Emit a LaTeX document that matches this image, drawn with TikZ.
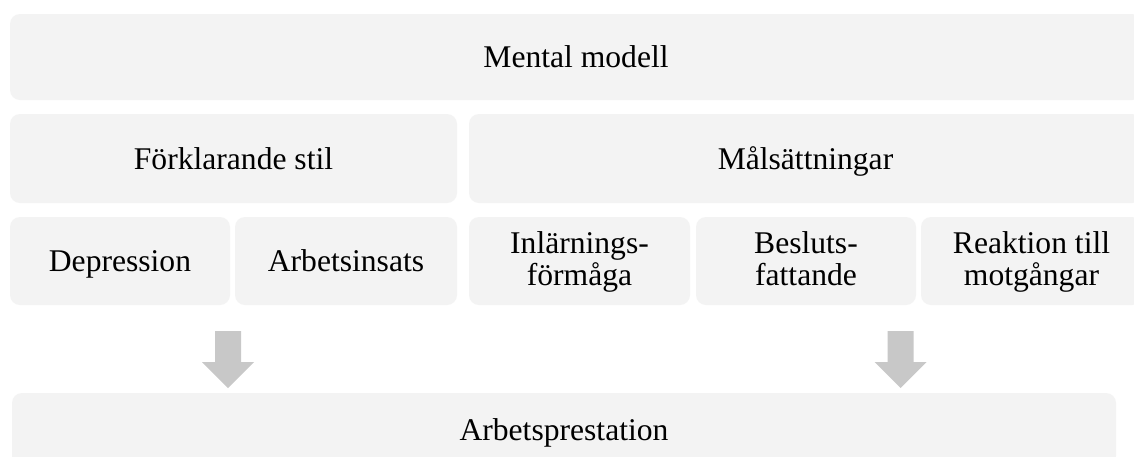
\documentclass[tikz,border=0pt]{standalone}
\usepackage{fontspec}
\setmainfont{Liberation Serif}
\definecolor{boxfill}{HTML}{F3F3F3}
\definecolor{arrowfill}{HTML}{C8C8C8}
\begin{document}
\begin{tikzpicture}[x=1pt,y=-1pt,
  box/.style={fill=boxfill, rounded corners=10pt, inner sep=0pt, align=center,
    font=\fontsize{31.6}{32}\selectfont},
  oneline/.style={box, text height=21pt, text depth=0pt},
  twoline/.style={box, text height=53pt, text depth=5pt},
  blockarrow/.style={fill=arrowfill, draw=none}]
\useasboundingbox (0,0) rectangle (1134,456);
\clip (0,0) rectangle (1134,456);
\fill[white] (0,0) rectangle (1134,456);
% top row
\node[oneline, minimum width=1132pt, minimum height=86pt] (mental) at (576,57) {Mental modell};
% second row
\node[oneline, minimum width=447pt, minimum height=89pt] (forkl) at (233.5,158.5) {Förklarande stil};
\node[oneline, minimum width=673pt, minimum height=89pt] (malsat) at (805.5,158.5) {Målsättningar};
% third row
\node[oneline, minimum width=220pt, minimum height=88pt] (dep) at (120,261) {Depression};
\node[oneline, minimum width=222pt, minimum height=88pt] (arb) at (346,261) {Arbetsinsats};
\node[twoline, minimum width=221pt, minimum height=88pt] (inl) at (579.5,261) {Inlärnings-\\förmåga};
\node[twoline, minimum width=220pt, minimum height=88pt] (bes) at (806,261) {Besluts-\\fattande};
\node[twoline, minimum width=221pt, minimum height=88pt] (rea) at (1031.5,261) {Reaktion till\\motgångar};
% bottom
\node[oneline, minimum width=1104pt, minimum height=73pt] (perf) at (564,429.5) {Arbetsprestation};
% block arrows
\coordinate (a1) at (228,331);
\coordinate (a2) at (900.7,331);
\foreach \a in {a1,a2}{
  \fill[blockarrow] (\a) ++(-13,0) -- ++(26,0) -- ++(0,31) -- ++(13,0) -- ++(-26,26) -- ++(-26,-26) -- ++(13,0) -- cycle;
}
\end{tikzpicture}
\end{document}
